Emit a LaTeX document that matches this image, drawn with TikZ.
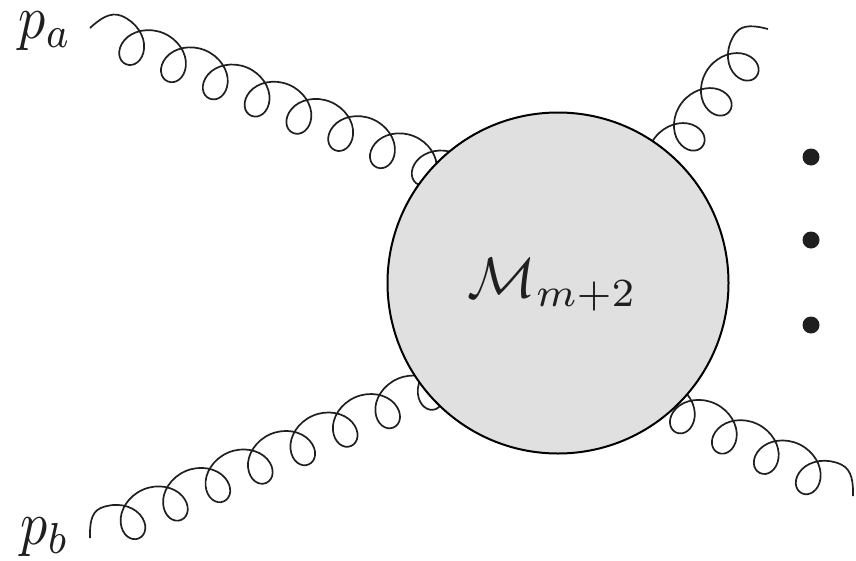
\documentclass[tikz,border=0pt]{standalone}
\usetikzlibrary{decorations}
\definecolor{blobgray}{gray}{0.88}
\definecolor{inkblack}{gray}{0.12}
\newdimen\gL \newdimen\gLead
\newdimen\gA \gA=21.5pt
\newdimen\gR \gR=22pt
\newdimen\gY \gY=1.7pt
\def\gp#1#2#3{\pgfpoint{\the\dimexpr#1\gL+#2\gR\relax}{\the\dimexpr#3\gA+\gY\relax}}
\pgfdeclaredecoration{gluonarc}{lead}{
  \state{lead}[width=\gLead,next state=loop]{
    \pgfpathcurveto
      {\pgfpoint{0.22\gLead}{\the\dimexpr0.5\gA+0.5\gY\relax}}
      {\pgfpoint{0.5\gLead}{\the\dimexpr\gA+\gY\relax}}
      {\pgfpoint{\gLead}{\the\dimexpr\gA+\gY\relax}}
  }
  \state{loop}[switch if less than=\gL to final,width=\gL]{
    \pgfpathcurveto{\gp{0.08333}{0.5523}{1}}{\gp{0.16667}{1}{0.5523}}{\gp{0.25}{1}{0}}
    \pgfpathcurveto{\gp{0.33333}{1}{-0.5523}}{\gp{0.41667}{0.5523}{-1}}{\gp{0.5}{0}{-1}}
    \pgfpathcurveto{\gp{0.58333}{-0.5523}{-1}}{\gp{0.66667}{-1}{-0.5523}}{\gp{0.75}{-1}{0}}
    \pgfpathcurveto{\gp{0.83333}{-1}{0.5523}}{\gp{0.91667}{-0.5523}{1}}{\gp{1}{0}{1}}
  }
  \state{final}{}
}
\tikzset{
  gluon/.style n args={2}{draw=inkblack,line width=1.7pt,decorate,
    /utils/exec={\gL=#1pt \gLead=#2pt},
    decoration={gluonarc}},
  gluonm/.style n args={2}{draw=inkblack,line width=1.7pt,decorate,
    /utils/exec={\gL=#1pt \gLead=#2pt},
    decoration={gluonarc,mirror}},
  blob/.style={circle,draw=black,line width=2pt,fill=blobgray,minimum size=341pt,inner sep=0pt},
  dotmark/.style={circle,fill=inkblack,minimum size=17pt,inner sep=0pt},
  lab/.style={inner sep=0pt,xscale=5.4,yscale=6.2,text=inkblack}
}
\begin{document}
\begin{tikzpicture}[x=1pt,y=-1pt]
\useasboundingbox (0,0) rectangle (856,560);
\coordinate (sa) at (90,28);
\coordinate (ea) at (508,200);
\coordinate (sb) at (90,538);
\coordinate (eb) at (515,353);
\coordinate (sc) at (768,29);
\coordinate (ec) at (633,204);
\coordinate (sd) at (853,496);
\coordinate (ed) at (643,394.5);
\draw[gluon={45.2}{24.5}] (sa) -- (ea);
\draw[gluon={46.3}{21.5}] (sb) -- (eb);
\draw[gluonm={44.2}{22.5}] (sc) -- (ec);
\draw[gluonm={46.6}{24}] (sd) -- (ed);
\node[blob] (m) at (558,283) {};
\node[scale=5.7,inner sep=0pt,text=inkblack] (ml) at (552.5,285) {$\mathcal{M}_{m+2}$};
\node[lab] (pa) at (45,31) {$p_a$};
\node[lab] (pb) at (45,537) {$p_b$};
\node[dotmark] (d1) at (811,157) {};
\node[dotmark] (d2) at (811,240) {};
\node[dotmark] (d3) at (811,325) {};
\end{tikzpicture}
\end{document}
